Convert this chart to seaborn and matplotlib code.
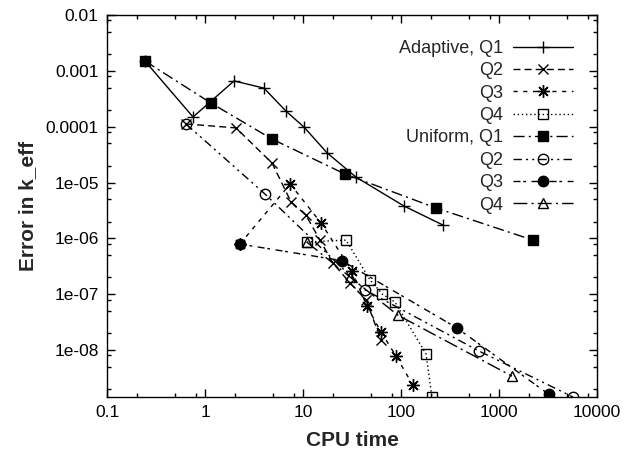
import numpy as np
import pandas as pd
import matplotlib
matplotlib.use("Agg")
import matplotlib.pyplot as plt
import seaborn as sns
from matplotlib.ticker import FixedLocator, NullFormatter

# ---- data ----
adapt_q1_x = [0.244, 0.755, 1.98, 4.0, 6.7, 10.2, 17.6, 34.7, 107, 268]
adapt_q1_y = [1.5e-3, 1.49e-4, 6.6e-4, 4.9e-4, 1.9e-4, 9.9e-5, 3.4e-5, 1.25e-5, 3.8e-6, 1.73e-6]

adapt_q2_x = [0.64, 2.07, 4.83, 7.55, 10.7, 14.9, 20.2, 30.2, 44, 62.5]
adapt_q2_y = [1.12e-4, 9.5e-5, 2.23e-5, 4.5e-6, 2.6e-6, 9.3e-7, 3.6e-7, 1.58e-7, 7.9e-8, 1.51e-8]

adapt_q3_x = [2.27, 7.4, 15.3, 31.6, 45, 62.5, 89, 132]
adapt_q3_y = [7.9e-7, 9.4e-6, 1.88e-6, 2.6e-7, 6.1e-8, 2.1e-8, 7.8e-9, 2.36e-9]

adapt_q4_x = [10.9, 27.5, 48.3, 64.7, 86.9, 180, 207]
adapt_q4_y = [8.6e-7, 9.3e-7, 1.8e-7, 1.0e-7, 7.2e-8, 8.5e-9, 1.44e-9]

unif_q1_x = [0.244, 1.15, 4.83, 26.8, 227, 2222]
unif_q1_y = [1.5e-3, 2.65e-4, 6.0e-5, 1.42e-5, 3.5e-6, 9.3e-7]

unif_q2_x = [0.64, 4.1, 43, 625, 5690]
unif_q2_y = [1.12e-4, 6.2e-6, 1.19e-7, 9.6e-9, 1.44e-9]

unif_q3_x = [2.27, 24.8, 370, 3236]
unif_q3_y = [7.9e-7, 4.0e-7, 2.5e-8, 1.6e-9]

unif_q4_x = [10.9, 30.2, 93, 1358]
unif_q4_y = [8.6e-7, 2.03e-7, 4.2e-8, 3.4e-9]

labels = ["Adaptive, Q1", "Q2", "Q3", "Q4", "Uniform, Q1", "Q2", "Q3", "Q4"]

x_ticks = [0.1, 1, 10, 100, 1000, 10000]
x_tick_labels = ["0.1", "1", "10", "100", "1000", "10000"]
y_ticks = [1e-8, 1e-7, 1e-6, 1e-5, 1e-4, 1e-3, 1e-2]
y_tick_labels = ["1e-08", "1e-07", "1e-06", "1e-05", "0.0001", "0.001", "0.01"]

# ---- styling ----
sns.set_style("ticks")
plt.rcParams['font.family'] = ['Liberation Sans', 'DejaVu Sans']

series = [
    (adapt_q1_x, adapt_q1_y, dict(marker='+', linestyle='-', markersize=9, mew=1.0, mfc='black')),
    (adapt_q2_x, adapt_q2_y, dict(marker='x', linestyle=(0, (5, 3)), markersize=7, mew=1.0, mfc='black')),
    (adapt_q3_x, adapt_q3_y, dict(marker=(8, 2, 0), linestyle=(0, (3, 4)), markersize=9, mew=1.0, mfc='black')),
    (adapt_q4_x, adapt_q4_y, dict(marker='s', linestyle=(0, (1, 2)), markersize=7.5, mew=1.0, mfc='none')),
    (unif_q1_x, unif_q1_y, dict(marker='s', linestyle=(0, (8, 3, 1.5, 3)), markersize=7.5, mew=1.0, mfc='black')),
    (unif_q2_x, unif_q2_y, dict(marker='o', linestyle=(0, (6, 3, 1.5, 3, 1.5, 3)), markersize=7.5, mew=1.0, mfc='none')),
    (unif_q3_x, unif_q3_y, dict(marker='o', linestyle=(0, (5, 2, 2, 4)), markersize=7.5, mew=1.0, mfc='black')),
    (unif_q4_x, unif_q4_y, dict(marker='^', linestyle=(0, (10, 3, 1.5, 3)), markersize=7.5, mew=1.0, mfc='none')),
]

fig = plt.figure(figsize=(6.24, 4.51), dpi=100)
ax = fig.add_axes([107 / 624, 1 - 397 / 451, 490 / 624, 382 / 451])

for (xs, ys, kw), lab in zip(series, labels):
    df = pd.DataFrame({"x": xs, "y": ys})
    sns.lineplot(data=df, x="x", y="y", ax=ax, color='black', lw=1.0,
                 sort=False, estimator=None, label=lab, mec='black', **kw)

ax.set_xscale('log')
ax.set_yscale('log')
ax.set_xlim(0.1, 10000)
ax.set_ylim(1.44e-9, 0.01)

ax.xaxis.set_major_locator(FixedLocator(x_ticks))
ax.set_xticklabels(x_tick_labels)
ax.yaxis.set_major_locator(FixedLocator(y_ticks))
ax.set_yticklabels(y_tick_labels)

minor_x = [m * 10.0 ** e for e in range(-1, 4) for m in (2, 5, 8)]
minor_y = [m * 10.0 ** e for e in range(-10, -2) for m in (2, 5, 8)]
ax.xaxis.set_minor_locator(FixedLocator(minor_x))
ax.yaxis.set_minor_locator(FixedLocator(minor_y))
ax.xaxis.set_minor_formatter(NullFormatter())
ax.yaxis.set_minor_formatter(NullFormatter())

ax.tick_params(which='both', direction='in', top=True, right=True, width=1.0, colors='black')
ax.tick_params(which='major', length=6, labelsize=12.5, pad=6)
ax.tick_params(which='minor', length=3)
for s in ax.spines.values():
    s.set_linewidth(1.0)
    s.set_color('black')

ax.set_xlabel("CPU time", fontsize=15, fontweight='bold', labelpad=8)
ax.set_ylabel("Error in k_eff", fontsize=15, fontweight='bold', labelpad=6)

leg = ax.legend(loc='upper right', bbox_to_anchor=(0.951, 0.935), frameon=False,
                markerfirst=False, fontsize=13, handlelength=3.3, handletextpad=0.55,
                labelspacing=0.30, borderaxespad=0.0, borderpad=0.0)

fig.savefig("out.png", dpi=100)
